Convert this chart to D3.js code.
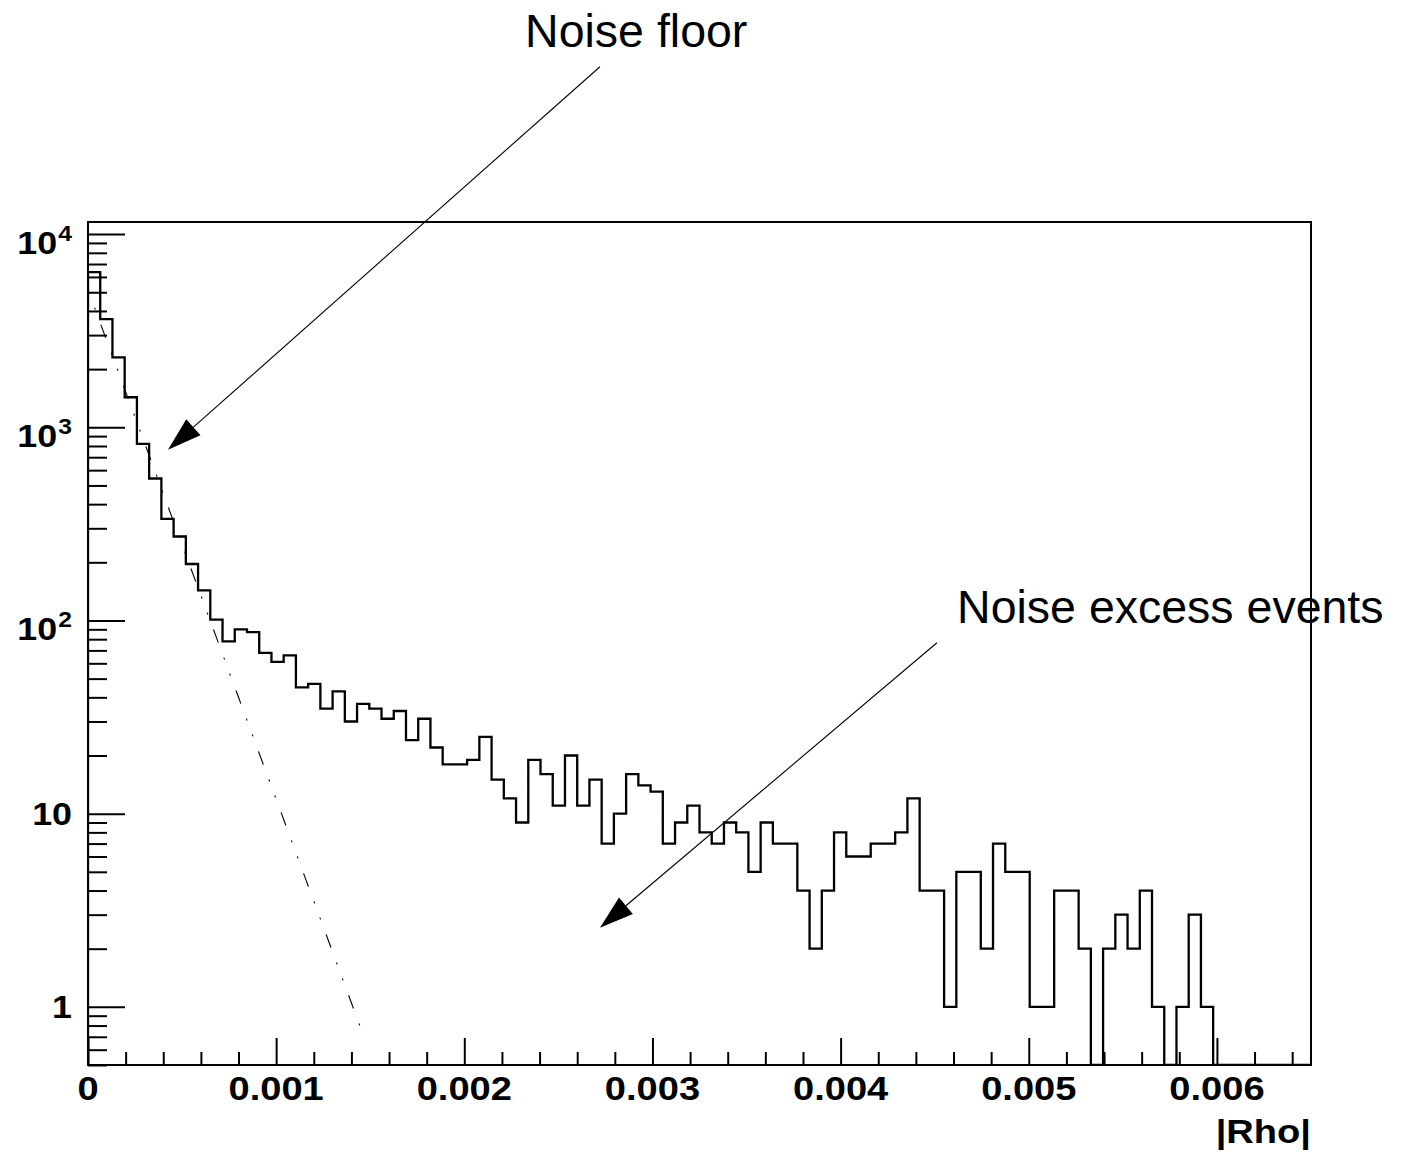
<!DOCTYPE html>
<html>
<head>
<meta charset="utf-8">
<script src="https://cdn.jsdelivr.net/npm/d3@7"></script>
<style>
  html, body { margin: 0; padding: 0; background: #fff; }
  svg { display: block; }
  text { font-family: "Liberation Sans", Arial, Helvetica, sans-serif; fill: #000; }
</style>
</head>
<body>
<svg id="chart" width="1408" height="1155"></svg>
<script>
// |Rho| distribution: 100 equal bins from 0 to 0.0065
const binStart = 0;
const binWidth = 0.000065;
const binCounts = [
  6350, 3630, 2300, 1430, 820, 543, 336, 272, 196, 143,
  101, 78, 90, 87, 68, 61, 66, 45, 47, 35,
  43, 30, 37, 35, 31, 34, 24, 31, 22, 18,
  18, 19, 25, 15, 12, 9, 19, 16, 11, 20,
  11, 15, 7, 10, 16, 14, 13, 7, 9, 11,
  8, 7, 9, 8, 5, 9, 7, 7, 4, 2,
  4, 8, 6, 6, 7, 7, 8, 12, 4, 4,
  1, 5, 5, 2, 7, 5, 5, 1, 1, 4,
  4, 2, 0, 2, 3, 2, 4, 1, 0, 1,
  3, 1, 0, 0, 0, 0, 0, 0, 0, 0
];

// exponential fit of the noise floor: exp(p0 + p1 * x)
const fitParams = [8.545, -6070];
const fitRange = [0, 0.00145];

// axes
const xDomain = [0, 0.0065];
const yDomain = [0.5, 11550];
const xTickValues = [0, 0.001, 0.002, 0.003, 0.004, 0.005, 0.006];
const xTickLabels = ["0", "0.001", "0.002", "0.003", "0.004", "0.005", "0.006"];
const yTickValues = [1, 10, 100, 1000, 10000];
const yTickBases = ["1", "10", "10", "10", "10"];
const yTickExponents = ["", "", "2", "3", "4"];
const xTitle = "|Rho|";

// annotations, anchored in data coordinates
const annotationTexts = ["Noise floor", "Noise excess events"];
const annotationTextAt = [[0.002323, 93200], [0.004619, 97.3]];
const arrowFrom = [[0.002721, 73500], [0.004512, 76.7]];
const arrowTo = [[0.000425, 765], [0.002721, 2.567]];

// ---------------------------------------------------------------
const frame = { left: 88, top: 222, right: 1311, bottom: 1065 };
const labelStretch = 1.12;
const svg = d3.select("#chart");

const x = d3.scaleLinear().domain(xDomain).range([frame.left, frame.right]);
const y = d3.scaleLog().domain(yDomain).range([frame.bottom, frame.top]);

// clip region for the plotted curves
svg.append("defs").append("clipPath").attr("id", "plot-area")
  .append("rect")
  .attr("x", frame.left).attr("y", frame.top)
  .attr("width", frame.right - frame.left)
  .attr("height", frame.bottom - frame.top);

// histogram outline; empty bins drop to the bottom of the frame
const stepPoints = [[binStart, yDomain[0]]];
binCounts.forEach((c, i) => {
  const lo = binStart + i * binWidth;
  const v = Math.max(c, yDomain[0]);
  stepPoints.push([lo, v], [lo + binWidth, v]);
});
const histLine = d3.line().x(d => x(d[0])).y(d => y(d[1]));
svg.append("path")
  .attr("clip-path", "url(#plot-area)")
  .attr("d", histLine(stepPoints))
  .attr("fill", "none")
  .attr("stroke", "#000")
  .attr("stroke-width", 2.3)
  .attr("stroke-linejoin", "miter");

// exponential fit, dash-dot-dot
const fitX = d3.range(0, 41).map(i => fitRange[0] + (fitRange[1] - fitRange[0]) * i / 40);
const fitPts = fitX.map(v => [v, Math.exp(fitParams[0] + fitParams[1] * v)]);
svg.append("path")
  .attr("clip-path", "url(#plot-area)")
  .attr("d", histLine(fitPts))
  .attr("fill", "none")
  .attr("stroke", "#000")
  .attr("stroke-width", 1.1)
  .attr("stroke-dasharray", "14,16,2,15,2,16")
  .attr("stroke-dashoffset", 28);

// frame box
svg.append("rect")
  .attr("x", frame.left).attr("y", frame.top)
  .attr("width", frame.right - frame.left)
  .attr("height", frame.bottom - frame.top)
  .attr("fill", "none").attr("stroke", "#000").attr("stroke-width", 2);

// ticks pointing into the frame
const xMinor = d3.range(0, 33).map(i => +(i * 0.0002).toFixed(6))
  .filter(v => !xTickValues.some(t => Math.abs(t - v) < 1e-9));

function tickAxis(axis, tx, ty) {
  const g = svg.append("g").attr("transform", `translate(${tx},${ty})`).call(axis);
  g.select(".domain").remove();
  g.selectAll(".tick line").attr("stroke", "#000").attr("stroke-width", 2);
  g.selectAll(".tick text").remove();
  return g;
}

tickAxis(d3.axisBottom(x).tickValues(xTickValues).tickSize(-27).tickFormat(""), 0, frame.bottom);
tickAxis(d3.axisBottom(x).tickValues(xMinor).tickSize(-13).tickFormat(""), 0, frame.bottom);

// y ticks (log decades and sub-decades)
const yMinor = [];
[0.1, 1, 10, 100, 1000].forEach(dec => {
  for (let k = 2; k <= 9; k++) {
    const v = k * dec;
    if (v >= yDomain[0] && v <= yDomain[1]) yMinor.push(v);
  }
});
tickAxis(d3.axisLeft(y).tickValues(yTickValues).tickSize(-37).tickFormat(""), frame.left, 0);
tickAxis(d3.axisLeft(y).tickValues(yMinor).tickSize(-19).tickFormat(""), frame.left, 0);

// x tick labels
xTickValues.forEach((v, i) => {
  svg.append("g")
    .attr("transform", `translate(${x(v)},1100)`)
    .append("text")
    .attr("transform", `scale(${labelStretch},1)`)
    .attr("text-anchor", "middle")
    .attr("font-weight", "bold")
    .attr("font-size", 34)
    .text(xTickLabels[i]);
});

// y tick labels (powers of ten with superscripts)
yTickValues.forEach((v, i) => {
  const hasExp = yTickExponents[i] !== "";
  const t = svg.append("g")
    .attr("transform", `translate(72,${y(v) + (hasExp ? 20 : 11)})`)
    .append("text")
    .attr("transform", `scale(${labelStretch},1)`)
    .attr("text-anchor", "end")
    .attr("font-weight", "bold")
    .attr("font-size", 32);
  t.append("tspan").text(yTickBases[i]);
  if (hasExp) {
    t.append("tspan")
      .attr("font-size", 22)
      .attr("dy", -13)
      .attr("dx", 1)
      .text(yTickExponents[i]);
  }
});

// x axis title
svg.append("g")
  .attr("transform", `translate(${frame.right},1143)`)
  .append("text")
  .attr("transform", `scale(${labelStretch},1)`)
  .attr("text-anchor", "end")
  .attr("font-weight", "bold")
  .attr("font-size", 34)
  .text(xTitle);

// annotations with arrows
annotationTexts.forEach((label, i) => {
  const [x0, y0] = [x(arrowFrom[i][0]), y(arrowFrom[i][1])];
  const [x1, y1] = [x(arrowTo[i][0]), y(arrowTo[i][1])];
  const dx = x1 - x0, dy = y1 - y0;
  const len = Math.hypot(dx, dy);
  const ux = dx / len, uy = dy / len;
  const headLen = 34, headHalf = 10.7;
  const bx = x1 - ux * headLen, by = y1 - uy * headLen;
  svg.append("line")
    .attr("x1", x0).attr("y1", y0).attr("x2", bx).attr("y2", by)
    .attr("stroke", "#000").attr("stroke-width", 1.1);
  svg.append("path")
    .attr("d", `M${x1},${y1}L${bx - uy * headHalf},${by + ux * headHalf}L${bx + uy * headHalf},${by - ux * headHalf}Z`)
    .attr("fill", "#000");
  svg.append("text")
    .attr("x", x(annotationTextAt[i][0]))
    .attr("y", y(annotationTextAt[i][1]))
    .attr("font-size", 46.5)
    .text(label);
});
</script>
</body>
</html>
